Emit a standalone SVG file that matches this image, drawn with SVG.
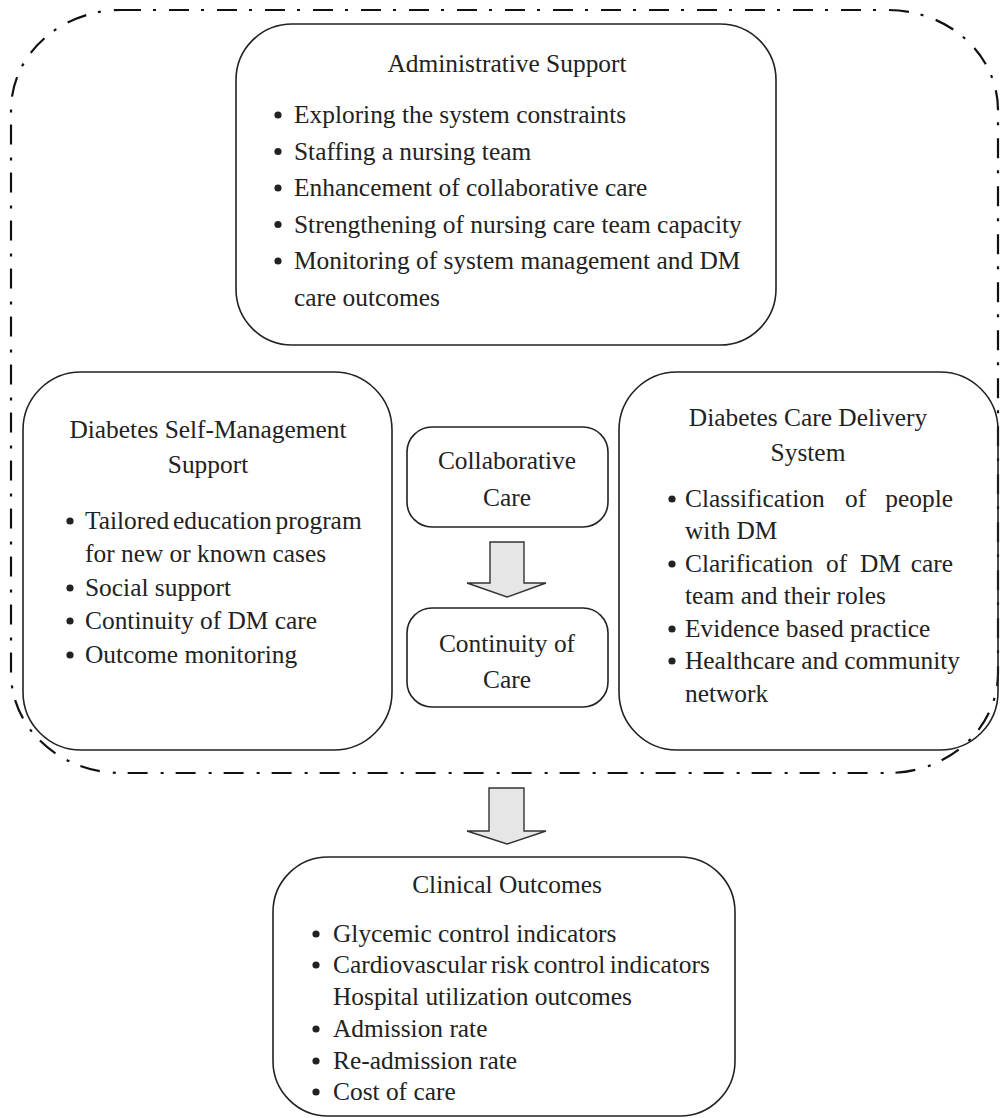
<svg xmlns="http://www.w3.org/2000/svg" width="1000" height="1118" viewBox="0 0 1000 1118">
<style>
  .box{fill:none;stroke:#222;stroke-width:1.6}
  .outer{fill:none;stroke:#111;stroke-width:2.2;stroke-dasharray:20 12 3 13}
  .arrow{fill:#e6e6e6;stroke:#333;stroke-width:1.4;stroke-linejoin:miter}
  text{font-family:"Liberation Serif","Times New Roman",serif;font-size:25.4px;fill:#222}
  .c{text-anchor:middle}
  .dot{fill:#222}
</style>
<rect width="1000" height="1118" fill="#fff"/>
<g id="boundary">
  <rect class="outer" x="11" y="10" width="987" height="763" rx="110" ry="100"/>
</g>
<g id="admin">
  <rect class="box" x="236" y="24" width="540" height="321" rx="56" ry="56"/>
  <text class="c" x="507" y="72">Administrative Support</text>
  <circle class="dot" cx="278" cy="115" r="3.6"/>
  <text x="294" y="123">Exploring the system constraints</text>
  <circle class="dot" cx="278" cy="151.5" r="3.6"/>
  <text x="294" y="159.5">Staffing a nursing team</text>
  <circle class="dot" cx="278" cy="188" r="3.6"/>
  <text x="294" y="196">Enhancement of collaborative care</text>
  <circle class="dot" cx="278" cy="224.5" r="3.6"/>
  <text x="294" y="232.5">Strengthening of nursing care team capacity</text>
  <circle class="dot" cx="278" cy="261" r="3.6"/>
  <text x="294" y="269">Monitoring of system management and DM</text>
  <text x="294" y="305.5">care outcomes</text>
</g>
<g id="self-management">
  <rect class="box" x="23" y="372" width="369" height="378" rx="58" ry="58"/>
  <text class="c" x="208" y="438">Diabetes Self-Management</text>
  <text class="c" x="208" y="473">Support</text>
  <circle class="dot" cx="70" cy="521" r="3.6"/>
  <text x="85" y="529" style="word-spacing:-2.5px">Tailored education program</text>
  <text x="85" y="562">for new or known cases</text>
  <circle class="dot" cx="70" cy="588" r="3.6"/>
  <text x="85" y="596">Social support</text>
  <circle class="dot" cx="70" cy="621" r="3.6"/>
  <text x="85" y="629">Continuity of DM care</text>
  <circle class="dot" cx="70" cy="655" r="3.6"/>
  <text x="85" y="663">Outcome monitoring</text>
</g>
<g id="delivery-system">
  <rect class="box" x="619" y="372" width="379" height="378" rx="58" ry="58"/>
  <text class="c" x="808" y="426">Diabetes Care Delivery</text>
  <text class="c" x="808" y="461">System</text>
  <circle class="dot" cx="672" cy="499" r="3.6"/>
  <text x="685" y="507">Classification<tspan x="845">of</tspan><tspan x="953" text-anchor="end">people</tspan></text>
  <text x="685" y="539">with DM</text>
  <circle class="dot" cx="672" cy="564" r="3.6"/>
  <text x="685" y="572">Clarification<tspan x="826">of</tspan><tspan x="860">DM</tspan><tspan x="953" text-anchor="end">care</tspan></text>
  <text x="685" y="604">team and their roles</text>
  <circle class="dot" cx="672" cy="629" r="3.6"/>
  <text x="685" y="637">Evidence based practice</text>
  <circle class="dot" cx="672" cy="661" r="3.6"/>
  <text x="685" y="669">Healthcare and community</text>
  <text x="685" y="702">network</text>
</g>
<g id="collaborative-care">
  <rect class="box" x="407" y="427" width="201" height="100" rx="25" ry="25"/>
  <text class="c" x="507" y="469">Collaborative</text>
  <text class="c" x="507" y="506">Care</text>
</g>
<g id="continuity-of-care">
  <rect class="box" x="407" y="608" width="201" height="99" rx="25" ry="25"/>
  <text class="c" x="507" y="652">Continuity of</text>
  <text class="c" x="507" y="688">Care</text>
</g>
<g id="clinical-outcomes">
  <rect class="box" x="273" y="857" width="462" height="259" rx="55" ry="55"/>
  <text class="c" x="507" y="893">Clinical Outcomes</text>
  <circle class="dot" cx="316" cy="934" r="3.6"/>
  <text x="333" y="942">Glycemic control indicators</text>
  <circle class="dot" cx="316" cy="965" r="3.6"/>
  <text x="333" y="973" style="word-spacing:-2px">Cardiovascular risk control indicators</text>
  <text x="333" y="1005">Hospital utilization outcomes</text>
  <circle class="dot" cx="316" cy="1029" r="3.6"/>
  <text x="333" y="1037">Admission rate</text>
  <circle class="dot" cx="316" cy="1061" r="3.6"/>
  <text x="333" y="1069">Re-admission rate</text>
  <circle class="dot" cx="316" cy="1092" r="3.6"/>
  <text x="333" y="1100">Cost of care</text>
</g>
<g id="connectors">
  <path class="arrow" d="M490,542 L524,542 L524,583 L546,583 L507,597 L467,583 L490,583 Z"/>
  <path class="arrow" d="M489,788 L524,788 L524,831 L546,831 L507,844 L467,831 L489,831 Z"/>
</g>
</svg>
